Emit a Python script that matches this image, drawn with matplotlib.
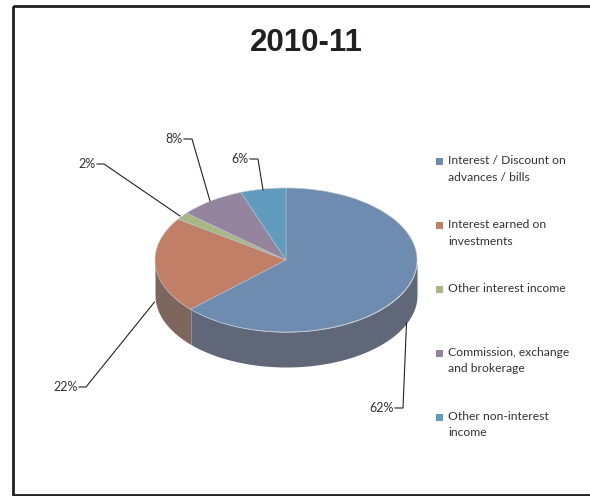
import numpy as np
import matplotlib
matplotlib.use('Agg')
import matplotlib.pyplot as plt
from matplotlib.patches import Rectangle

# Data (wedge sizes, labels as printed)
categories = ['Interest / Discount on\nadvances / bills', 'Interest earned on\ninvestments',
              'Other interest income', 'Commission, exchange\nand brokerage', 'Other non-interest\nincome']
shares = [63.0, 21.6, 1.7, 8.1, 5.6]
pct_labels = ['62%', '22%', '2%', '8%', '6%']
title = '2010-11'

top_colors = ['#6E8BB0', '#C17F68', '#A9B787', '#95849D', '#619CBF']
side_colors = ['#5F6778', '#7D665D', '#727B5E', '#655A6B', '#42697F']

W, H = 590, 496
cx, cy, rx, ry, depth = 286, 260, 131, 72, 35

fig = plt.figure(figsize=(W / 100, H / 100), dpi=100)

# overlay in pixel coordinates for frame, labels and legend
ov = fig.add_axes([0, 0, 1, 1], zorder=3)
ov.set_xlim(0, W)
ov.set_ylim(H, 0)
ov.axis('off')

# pie axes squashed so the circle turns into the tilted ellipse
ax = fig.add_axes([(cx - rx) / W, 1 - (cy + ry) / H, 2 * rx / W, 2 * ry / H], zorder=2)
wedges, _ = ax.pie(shares, colors=top_colors, startangle=90, counterclock=False, radius=1,
                   wedgeprops={'edgecolor': '#B9C2CE', 'linewidth': 0.4})
ax.set_aspect('auto')
ax.set_xlim(-1, 1)
ax.set_ylim(-1, 1)
for w in wedges:
    w.set_clip_on(False)
    w.set_zorder(3)

# side wall, only the front half of the rim shows
d = depth / ry
edges = np.cumsum([0] + shares) / sum(shares) * 2 * np.pi
for i in range(len(shares)):
    a0, a1 = max(edges[i], np.pi / 2), min(edges[i + 1], 3 * np.pi / 2)
    if a1 <= a0:
        continue
    t = np.linspace(a0, a1, 120)
    ax.fill_between(np.sin(t), np.cos(t), np.cos(t) - d, color=side_colors[i], lw=0, clip_on=False, zorder=1)
    if i > 0:
        ax.plot([np.sin(a0)] * 2, [np.cos(a0), np.cos(a0) - d], color='#A9A09C', lw=0.5, clip_on=False, zorder=2)

# leader lines and percent labels
leaders = [[(395, 408), (403, 408), (406.5, 323)],
           [(79, 387), (86, 387), (154.5, 302)],
           [(97, 164), (104, 164), (180, 216)],
           [(184, 139), (192, 139), (210, 201)],
           [(250, 159), (258, 159), (263, 190)]]
for lab, pts in zip(pct_labels, leaders):
    xs, ys = zip(*pts)
    ov.plot(xs, ys, color='#222222', lw=0.8, solid_joinstyle='miter')
    ov.text(xs[0] - 1, ys[0], lab, ha='right', va='center', family='Lato', fontsize=9, color='#333333')

# legend
legend_y = [161.5, 225.5, 289.5, 353, 417]
for y, name, col in zip(legend_y, categories, top_colors):
    ov.add_patch(Rectangle((436, y - 3.5), 7, 7, facecolor=col, edgecolor='none'))
    ov.text(448, y - 6, name, ha='left', va='top', family='Lato', fontsize=8.7,
            color='#333333', linespacing=1.6)

ov.text(306.5, 43, title, ha='center', va='center', family='Liberation Sans', fontweight='bold',
        fontsize=22.5, color='#231F20')

# chart frame, runs off the right edge
ov.add_patch(Rectangle((13, 5.5), 600, 489, facecolor='none', edgecolor='#231F20', lw=2))

fig.savefig('out.png', dpi=100)
